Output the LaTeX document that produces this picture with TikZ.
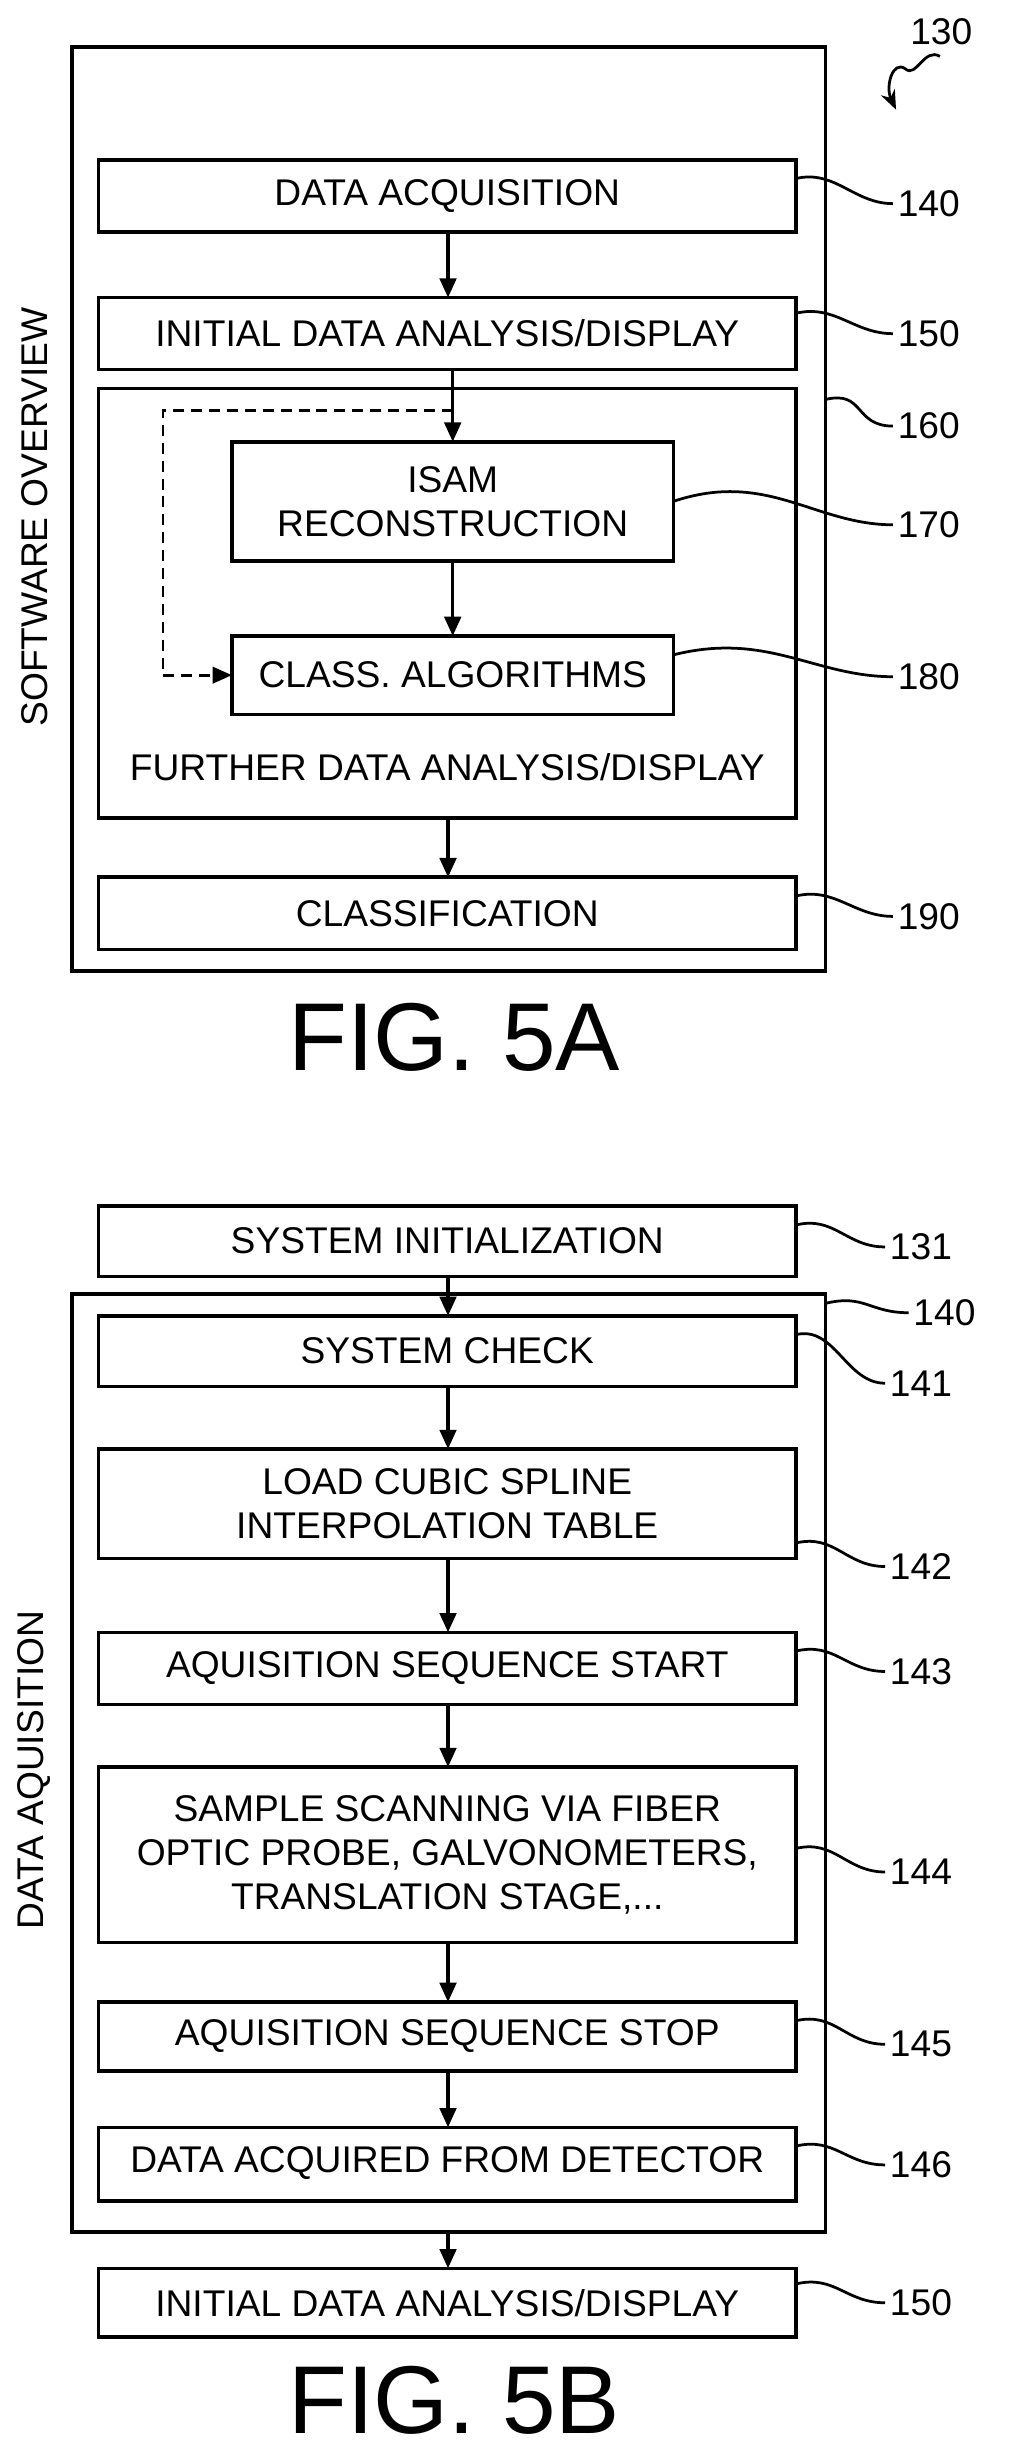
\documentclass[tikz,border=0pt]{standalone}
\usepackage{fontspec}
\setmainfont{Liberation Sans}
\usetikzlibrary{arrows.meta}
\begin{document}
\begin{tikzpicture}[x=0.04cm,y=-0.04cm,
  box/.style={draw,line width=2.6pt,inner sep=0},
  txt/.style={font=\fontsize{27}{32}\selectfont,align=center},
  num/.style={font=\fontsize{27}{30}\selectfont,anchor=west},
  arr/.style={-{Triangle[length=14pt,width=12pt]},line width=2.4pt},
  lead/.style={line width=2pt}]
\useasboundingbox (0,0) rectangle (655,1564);
% ---- FIG 5A
\draw[box] (46,30) rectangle (527,620) coordinate (o130);
\draw[box] (63,102) rectangle (508,148); \node[txt] (b140) at (285.5,125) {DATA ACQUISITION};
\draw[box] (63,190) rectangle (508,236); \node[txt] (b150) at (285.5,213) {INITIAL DATA ANALYSIS/DISPLAY};
\draw[box] (63,248) rectangle (508,522);
\draw[box] (148,282) rectangle (430,358); \node[txt] (b170) at (289,320) {ISAM\\RECONSTRUCTION};
\draw[box] (148,406) rectangle (430,456); \node[txt] (b180) at (289,431) {CLASS. ALGORITHMS};
\node[txt] (f160) at (285.5,490) {FURTHER DATA ANALYSIS/DISPLAY};
\draw[box] (63,560) rectangle (508,606); \node[txt] (b190) at (285.5,583) {CLASSIFICATION};
\coordinate (a1) at (286,148); \coordinate (a2) at (286,190);
\draw[arr] (a1) -- (a2);
\coordinate (a3) at (289,236); \coordinate (a4) at (289,282);
\draw[arr] (a3) -- (a4);
\coordinate (a5) at (289,358); \coordinate (a6) at (289,406);
\draw[arr] (a5) -- (a6);
\coordinate (a7) at (286,522); \coordinate (a8) at (286,560);
\draw[arr] (a7) -- (a8);
\coordinate (d0) at (289,262); \coordinate (d1) at (148,431);
\draw[arr,dash pattern=on 8pt off 5pt,line width=2pt] (d0) -- (104,262) -- (104,431) -- (d1);
\node[rotate=90,txt] (sw) at (22,330) {SOFTWARE OVERVIEW};
\node[num] (n130) at (578,20) {130};
\coordinate (c130) at (572,70);
\draw[lead,-{Stealth[length=14pt,width=11pt]}] (600,36) .. controls (590,30) and (585,50) .. (578,44) .. controls (570,38) and (565,55) .. (c130);
\node[num] (n140) at (570,130) {140};
\draw[lead] (508,114) .. controls +(25,-6) and +(-25,0) .. (n140.west);
\node[num] (n150) at (570,213) {150};
\draw[lead] (508,200) .. controls +(25,-6) and +(-25,0) .. (n150.west);
\node[num] (n160) at (570,272) {160};
\draw[lead] (527,255) .. controls +(25,-6) and +(-25,0) .. (n160.west);
\node[num] (n170) at (570,335) {170};
\draw[lead] (430,320) .. controls +(60,-20) and +(-50,0) .. (n170.west);
\node[num] (n180) at (570,432) {180};
\draw[lead] (430,418) .. controls +(60,-15) and +(-50,0) .. (n180.west);
\node[num] (n190) at (570,585) {190};
\draw[lead] (508,572) .. controls +(25,-6) and +(-25,0) .. (n190.west);
\node[font=\fontsize{70}{80}\selectfont] (fa) at (290,662) {FIG. 5A};
% ---- FIG 5B
\draw[box] (63,770) rectangle (508,815); \node[txt] (b131) at (285.5,792) {SYSTEM INITIALIZATION};
\draw[box] (46,826) rectangle (527,1425);
\draw[box] (63,840) rectangle (508,885); \node[txt] (b141) at (285.5,862) {SYSTEM CHECK};
\draw[box] (63,925) rectangle (508,995); \node[txt] (b142) at (285.5,960) {LOAD CUBIC SPLINE\\INTERPOLATION TABLE};
\draw[box] (63,1042) rectangle (508,1088); \node[txt] (b143) at (285.5,1065) {AQUISITION SEQUENCE START};
\draw[box] (63,1128) rectangle (508,1240); \node[txt] (b144) at (285.5,1184) {SAMPLE SCANNING VIA FIBER\\OPTIC PROBE, GALVONOMETERS,\\TRANSLATION STAGE,...};
\draw[box] (63,1278) rectangle (508,1322); \node[txt] (b145) at (285.5,1300) {AQUISITION SEQUENCE STOP};
\draw[box] (63,1358) rectangle (508,1405); \node[txt] (b146) at (285.5,1381) {DATA ACQUIRED FROM DETECTOR};
\draw[box] (63,1448) rectangle (508,1492); \node[txt] (b150b) at (285.5,1470) {INITIAL DATA ANALYSIS/DISPLAY};
\foreach \ya/\yb in {815/840,885/925,995/1042,1088/1128,1240/1278,1322/1358,1425/1448}
  \draw[arr] (286,\ya) -- (286,\yb);
\node[rotate=90,txt] (da) at (22,1130) {DATA AQUISITION};
\node[num] (m131) at (565,796) {131};
\draw[lead] (508,782) .. controls +(25,-6) and +(-25,0) .. (m131.west);
\node[num] (m140) at (580,838) {140};
\draw[lead] (527,832) .. controls +(25,-6) and +(-25,0) .. (m140.west);
\node[num] (m141) at (565,883) {141};
\draw[lead] (508,852) .. controls +(25,-6) and +(-25,0) .. (m141.west);
\node[num] (m142) at (565,1000) {142};
\draw[lead] (508,985) .. controls +(25,-6) and +(-25,0) .. (m142.west);
\node[num] (m143) at (565,1067) {143};
\draw[lead] (508,1054) .. controls +(25,-6) and +(-25,0) .. (m143.west);
\node[num] (m144) at (565,1195) {144};
\draw[lead] (508,1180) .. controls +(25,-6) and +(-25,0) .. (m144.west);
\node[num] (m145) at (565,1305) {145};
\draw[lead] (508,1290) .. controls +(25,-6) and +(-25,0) .. (m145.west);
\node[num] (m146) at (565,1382) {146};
\draw[lead] (508,1370) .. controls +(25,-6) and +(-25,0) .. (m146.west);
\node[num] (m150) at (565,1470) {150};
\draw[lead] (508,1458) .. controls +(25,-6) and +(-25,0) .. (m150.west);
\node[font=\fontsize{70}{80}\selectfont] (fb) at (290,1532) {FIG. 5B};
\end{tikzpicture}
\end{document}
